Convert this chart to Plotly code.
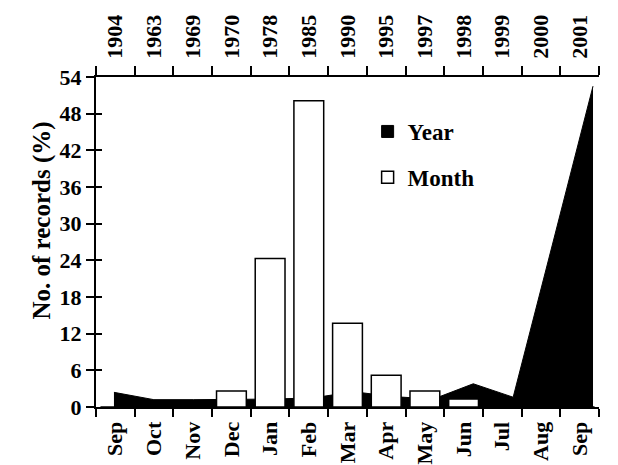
import plotly.graph_objects as go

months = ["Sep", "Oct", "Nov", "Dec", "Jan", "Feb", "Mar", "Apr", "May", "Jun", "Jul", "Aug", "Sep"]
years = ["1904", "1963", "1969", "1970", "1978", "1985", "1990", "1995", "1997", "1998", "1999", "2000", "2001"]
month_pct = [0, 0, 0, 2.6, 24.3, 50.1, 13.7, 5.2, 2.6, 1.3, 0, 0, 0]
year_pct = [2.4, 1.2, 1.2, 1.2, 1.3, 1.5, 2.5, 1.7, 1.3, 3.8, 1.6, 27.0, 52.5]
y_ticks = [0, 6, 12, 18, 24, 30, 36, 42, 48, 54]
y_title = "No. of records (%)"

FONT = "Liberation Serif"
n = len(months)
idx = list(range(n))
edges = [i - 0.5 for i in range(n + 1)]

fig = go.Figure()

# Year area (base axis, drawn beneath the bars)
fig.add_trace(go.Scatter(
    x=idx, y=year_pct, mode="lines", fill="tozeroy",
    line=dict(color="black", width=1), fillcolor="black",
    name="Year", showlegend=False, hoverinfo="y", xaxis="x", yaxis="y",
))

# Month bars (overlay axis, drawn above the area)
fig.add_trace(go.Bar(
    x=idx, y=month_pct, width=0.77, name="Month",
    marker=dict(color="white", line=dict(color="black", width=1.5)),
    xaxis="x2", yaxis="y", legendrank=2, legendgroup="m",
))

# Legend entry for Year (square symbol) attached to the top axis
fig.add_trace(go.Bar(
    x=[None], y=[None], name="Year",
    marker=dict(color="black", line=dict(color="black", width=1)),
    xaxis="x3", yaxis="y2", legendrank=1, legendgroup="y",
))

tickfont = dict(family=FONT, size=22, color="black", weight="bold")

# page body has an 8px margin, so the figure is drawn 8px in from the top-left
fig.update_layout(
    width=610, height=457,
    margin=dict(l=88, r=19, t=69, b=58),
    paper_bgcolor="white", plot_bgcolor="white",
    font=dict(family=FONT, color="black", weight="bold"),
    showlegend=True,
    legend=dict(
        x=0.54, y=0.90, xanchor="left", yanchor="top",
        font=dict(family=FONT, size=23, color="black", weight="bold"),
        bgcolor="rgba(0,0,0,0)", traceorder="grouped", tracegroupgap=13,
    ),
    xaxis=dict(
        range=[-0.45, 12.15], visible=False, fixedrange=True, automargin=False,
    ),
    xaxis2=dict(
        overlaying="x", side="bottom", anchor="y", automargin=False,
        range=[-0.5, n - 0.5],
        tickmode="array", tickvals=idx, ticktext=months, ticks="",
        tickangle=-90, tickfont=tickfont, ticklabelstandoff=4,
        minor=dict(tickmode="array", tickvals=edges, ticks="outside", ticklen=8,
                   tickwidth=2, tickcolor="black"),
        showline=True, linecolor="black", linewidth=2,
        showgrid=False, zeroline=False,
    ),
    xaxis3=dict(
        overlaying="x", side="top", anchor="y", automargin=False,
        range=[-0.5, n - 0.5],
        tickmode="array", tickvals=idx, ticktext=years, ticks="",
        tickangle=-90, tickfont=tickfont, ticklabelstandoff=12,
        minor=dict(tickmode="array", tickvals=edges, ticks="outside", ticklen=9,
                   tickwidth=1.5, tickcolor="black"),
        showline=True, linecolor="black", linewidth=1.5,
        showgrid=False, zeroline=False,
    ),
    yaxis=dict(
        range=[0, 54], tickmode="array", tickvals=y_ticks, automargin=False,
        ticks="outside", ticklen=8, tickwidth=2, tickcolor="black",
        tickfont=tickfont,
        showline=True, linecolor="black", linewidth=2,
        showgrid=False, zeroline=False,
    ),
    yaxis2=dict(
        overlaying="y", side="left", anchor="x2", automargin=False,
        range=[0, 54], tickmode="array", tickvals=y_ticks,
        ticks="inside", ticklen=6, tickwidth=2, tickcolor="black",
        showticklabels=False, showline=False, showgrid=False, zeroline=False,
    ),
    annotations=[dict(
        text=y_title, textangle=-90, showarrow=False,
        xref="paper", yref="paper", x=0, y=0.565,
        xanchor="center", yanchor="middle", xshift=-54,
        font=dict(family=FONT, size=25, color="black", weight="bold"),
    )],
)

fig.write_html("out.html")
